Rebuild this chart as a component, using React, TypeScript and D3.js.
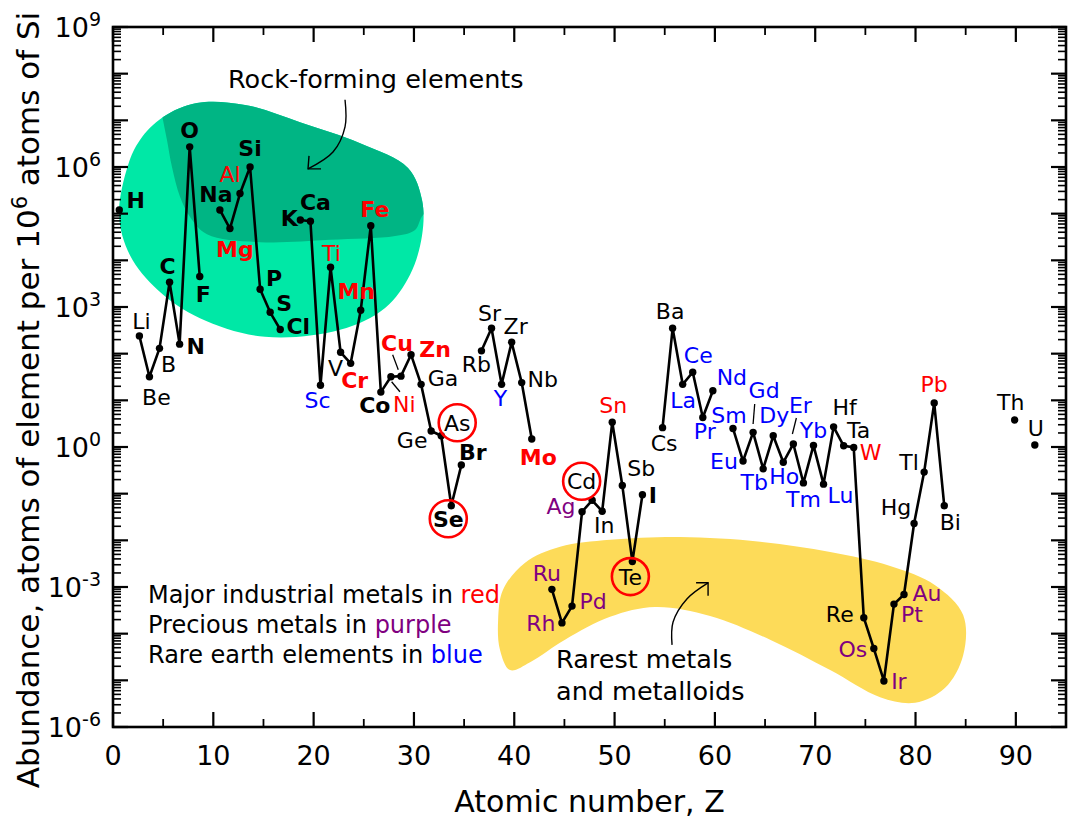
import React from 'react';
import * as d3 from 'd3';

// ---------- data ----------
const SYMBOLS = ['H','Li','Be','B','C','N','O','F','Na','Mg','Al','Si','P','S','Cl','K','Ca','Sc','Ti','V','Cr','Mn','Fe','Co','Ni','Cu','Zn','Ga','Ge','As','Se','Br','Rb','Sr','Y','Zr','Nb','Mo','Ru','Rh','Pd','Ag','Cd','In','Sn','Sb','Te','I','Cs','Ba','La','Ce','Pr','Nd','Sm','Eu','Gd','Tb','Dy','Ho','Er','Tm','Yb','Lu','Hf','Ta','W','Re','Os','Ir','Pt','Au','Hg','Tl','Pb','Bi','Th','U'];
const ATOMIC_NUMBERS = [1,3,4,5,6,7,8,9,11,12,13,14,15,16,17,19,20,21,22,23,24,25,26,27,28,29,30,31,32,33,34,35,37,38,39,40,41,42,44,45,46,47,48,49,50,51,52,53,55,56,57,58,59,60,62,63,64,65,66,67,68,69,70,71,72,73,74,75,76,77,78,79,80,81,82,83,90,92];
const ABUNDANCE = [1.2e5,240,32,130,3400,160,2.7e6,4500,1.2e5,4.8e4,2.7e5,1e6,2400,770,330,7.3e4,6.9e4,21,7100,107,62,850,5.5e4,15,32,33,95,22,2.2,1.74,0.055,0.41,115,350,22,175,24,1.48,8.9e-4,1.7e-4,3.9e-4,0.041,0.072,0.042,3.4,0.15,3.5e-3,0.095,2.6,350,22,40,4.3,16,2.5,0.5,2.06,0.34,1.74,0.47,1.16,0.17,1.08,0.16,2.7,1.06,0.98,2.2e-4,4.8e-5,9.7e-6,4.3e-4,6.9e-4,0.023,0.29,8.8,0.055,3.8,1.1];

const INDUSTRIAL = ['Mg','Al','Ti','Cr','Mn','Fe','Ni','Cu','Zn','Mo','Sn','W','Pb'];
const PRECIOUS = ['Ru','Rh','Pd','Ag','Os','Ir','Pt','Au'];
const RARE_EARTH = ['Sc','Y','La','Ce','Pr','Nd','Sm','Eu','Gd','Tb','Dy','Ho','Er','Tm','Yb','Lu'];
const BOLD = ['H','C','N','O','F','Na','Mg','Si','P','S','Cl','K','Ca','Cr','Mn','Fe','Co','Cu','Zn','Se','Br','Mo','I'];
const CIRCLED = ['As','Se','Cd','Te'];

const X_MAJOR = [0,10,20,30,40,50,60,70,80,90];
const Y_LABEL_EXPONENTS = [-6,-3,0,3,6,9];

// label offsets (px, label centre relative to point)
const LABEL_OFFSETS: Record<string,[number,number]> = {
  H:[16.5,-10], Li:[2,-15], Be:[7,20], B:[9,16], C:[-2,-16], N:[16,2], O:[0,-17], F:[3.5,17],
  Na:[-4,-16], Mg:[5,20], Al:[-10,-20], Si:[0,-19], P:[14,-11], S:[14,-9], Cl:[18,-3],
  K:[-11,-2.5], Ca:[5,-19.5], Sc:[-3,15], Ti:[1,-14], V:[-5,16], Cr:[4,17], Mn:[-4.5,-19], Fe:[4,-17],
  Co:[-6,13], Ni:[13.5,27], Cu:[-4,-33], Zn:[24,-6], Ga:[22,-6], Ge:[-19,9], As:[16,-13], Se:[-3,13], Br:[11.5,-13.5],
  Rb:[-5,13], Sr:[-2,-15], Y:[-1,14], Zr:[4,-16], Nb:[21,-4], Mo:[6.5,17.5],
  Ru:[-5,-16], Rh:[-21,0], Pd:[21,-5], Ag:[-21,-6], Cd:[-10.5,-19], In:[2,14], Sn:[1,-17], Sb:[19,-17], Te:[-2,15], I:[10.5,0],
  Cs:[1.5,15], Ba:[-2.5,-17], La:[0.5,16], Ce:[5.5,-17], Pr:[2,14], Nd:[19,-14],
  Sm:[-4,-13], Eu:[-19,0], Gd:[11,-42], Tb:[-9,13], Dy:[1,-21], Ho:[1,14], Er:[7,-39], Tm:[0,16], Yb:[0,-15], Lu:[17,11],
  Hf:[11,-20], Ta:[15,-16], W:[17,5], Re:[-24,-4], Os:[-21,0], Ir:[15,0.5], Pt:[18,9.5], Au:[23,-2],
  Hg:[-18,-16], Tl:[-15,-10], Pb:[0,-18.5], Bi:[6,16], Th:[-4,-18], U:[1,-17],
};
// leader ticks [symbol, dx1, dy1, dx2, dy2]
const LEADERS: [string,number,number,number,number][] = [
  ['Cu',-8.3,-21.3,-2.7,-6.3], ['Ni',0.7,5,9,15], ['Gd',1.6,-28.3,0,-8.3], ['Er',3,-26,-1,-10],
];

// annotation regions in data units [Z, log10(abundance)]
const ROCK_REGION: [number,number][] = [[4.99,7.07],[8.37,7.37],[13.16,7.33],[18.64,6.96],[24.63,6.51],[29.41,5.98],[30.81,5.29],[30.81,4.54],[29.61,3.69],[27.12,2.98],[22.63,2.51],[15.15,2.36],[8.67,2.76],[4.49,3.36],[1.69,4.11],[0.6,4.97],[1.5,6.04],[2.69,6.58]];
const ROCK_CORE_EDGE: [number,number][] = [[33.1,5.29],[30.91,4.97],[30.11,4.65],[28.12,4.52],[21.64,4.44],[14.66,4.39],[9.37,4.56],[7.68,4.93],[6.68,5.36],[5.88,6.0],[5.38,6.58],[4.89,7.11],[4.49,7.65]];
const RARE_REGION: [number,number][] = [[38.39,-3.71],[38.88,-3.06],[41.08,-2.48],[44.57,-2.14],[49.55,-1.99],[56.53,-1.93],[64.51,-2.03],[71.49,-2.25],[77.47,-2.55],[81.95,-2.96],[84.75,-3.6],[84.75,-4.46],[82.95,-5.16],[79.96,-5.48],[76.47,-5.36],[71.49,-4.78],[65.5,-4.13],[59.52,-3.62],[54.04,-3.43],[49.55,-3.64],[45.06,-4.13],[41.58,-4.61],[39.58,-4.78],[38.58,-4.35]];
const ROCK_ARROW: [number,number][] = [[23.13,7.44],[23.13,6.86],[21.93,6.32],[19.44,5.96]];
const RARE_ARROW: [number,number][] = [[55.73,-4.24],[55.83,-3.75],[57.23,-3.25],[59.32,-2.91]];

const FONT = '"DejaVu Sans", Verdana, sans-serif';
const W = 1068, H = 818;
const L = 113, R = 1066, T = 27, B = 727;

export default function App() {
  // axis frame scale (ticks, annotation regions)
  const x = d3.scaleLinear().domain([0, 95]).range([L, R]);
  // element markers sit on a very slightly offset scale in the original figure
  const xp = d3.scaleLinear().domain([0, 95]).range([109.2, 1065]);
  const y = d3.scaleLog().domain([1e-6, 1e9]).range([B, T]);
  const yl = (lg: number) => y(Math.pow(10, lg));

  const pts = SYMBOLS.map((s, i) => ({ s, z: ATOMIC_NUMBERS[i], v: ABUNDANCE[i] }));
  const segments: typeof pts[] = [];
  pts.forEach((p, i) => {
    if (i > 0 && p.z === pts[i - 1].z + 1) segments[segments.length - 1].push(p);
    else segments.push([p]);
  });
  const line = d3.line<{z:number,v:number}>().x(d => xp(d.z)).y(d => y(d.v));

  const closedLine = d3.line<[number,number]>().x(d => x(d[0])).y(d => yl(d[1])).curve(d3.curveCatmullRomClosed.alpha(0.5));
  const openLine = d3.line<[number,number]>().x(d => x(d[0])).y(d => yl(d[1])).curve(d3.curveCatmullRom.alpha(0.5));
  const rockPath = closedLine(ROCK_REGION) || '';
  const rarePath = closedLine(RARE_REGION) || '';
  const coreEdge = openLine(ROCK_CORE_EDGE) || '';
  const corePath = coreEdge + ` L${x(3.5)},${yl(8.4)} L${x(34)},${yl(8.4)} Z`;
  const rockTip = ROCK_ARROW[ROCK_ARROW.length - 1];
  const rareTip = RARE_ARROW[RARE_ARROW.length - 1];
  const rtx = x(rockTip[0]), rty = yl(rockTip[1]);
  const atx = x(rareTip[0]), aty = yl(rareTip[1]);

  const colorOf = (s: string) => INDUSTRIAL.includes(s) ? '#ff0000' : PRECIOUS.includes(s) ? '#800080' : RARE_EARTH.includes(s) ? '#0000ff' : '#000000';

  const yMinor: number[] = [];
  for (let e = -6; e < 9; e++) for (let k = 2; k <= 9; k++) yMinor.push(k * Math.pow(10, e));
  const yMajor = d3.range(-6, 10).map(e => Math.pow(10, e));
  const xMinor = d3.range(5, 95, 10);

  const LABEL_FS = 22;
  const capHalf = LABEL_FS * 0.729 / 2;

  return (
    <svg width={W} height={H} style={{ position: 'absolute', left: 0, top: 0, background: '#fff' }} fontFamily={FONT}>
      <defs>
        <clipPath id="plotClip"><rect x={L} y={T} width={R - L} height={B - T} /></clipPath>
        <clipPath id="rockClip"><path d={rockPath} /></clipPath>
      </defs>
      <rect x={0} y={0} width={W} height={H} fill="#fff" />
      <g clipPath="url(#plotClip)">
        <path d={rockPath} fill="#00e8a6" />
        <path d={corePath} fill="#00b584" clipPath="url(#rockClip)" />
        <path d={rarePath} fill="#fddb59" />
      </g>

      {/* annotation arrows */}
      <path d={openLine(ROCK_ARROW) || ''} fill="none" stroke="#000" strokeWidth={1.4} />
      <polyline points={`${rtx + 13},${rty} ${rtx},${rty} ${rtx + 1},${rty - 13}`} fill="none" stroke="#000" strokeWidth={1.4} />
      <path d={openLine(RARE_ARROW) || ''} fill="none" stroke="#000" strokeWidth={1.4} />
      <polyline points={`${atx - 12},${aty} ${atx},${aty} ${atx},${aty + 13}`} fill="none" stroke="#000" strokeWidth={1.4} />

      {/* data lines and points */}
      {segments.filter(s => s.length > 1).map((s, i) => (
        <path key={i} d={line(s) || ''} fill="none" stroke="#000" strokeWidth={2.6} strokeLinejoin="round" />
      ))}
      {pts.map(p => <circle key={p.s} cx={xp(p.z)} cy={y(p.v)} r={3.7} fill="#000" />)}

      {/* leader ticks */}
      {LEADERS.map(([s, x1, y1, x2, y2]) => {
        const p = pts.find(q => q.s === s)!;
        const px = xp(p.z), py = y(p.v);
        return <line key={s} x1={px + x1} y1={py + y1} x2={px + x2} y2={py + y2} stroke="#000" strokeWidth={1.3} />;
      })}

      {/* element labels */}
      {pts.map(p => {
        const [dx, dy] = LABEL_OFFSETS[p.s] || [0, -16];
        const cx = xp(p.z) + dx, cy = y(p.v) + dy;
        return (
          <g key={p.s}>
            <text x={cx} y={cy + capHalf} textAnchor="middle" fontSize={LABEL_FS}
              fontWeight={BOLD.includes(p.s) ? 'bold' : 'normal'} fill={colorOf(p.s)}>{p.s}</text>
            {CIRCLED.includes(p.s) && <circle cx={cx} cy={cy} r={18.5} fill="none" stroke="#ff0000" strokeWidth={2.6} />}
          </g>
        );
      })}

      {/* annotation texts */}
      <text x={228} y={88} fontSize={25.5} fill="#000">Rock-forming elements</text>
      <text x={556} y={668} fontSize={25.5} fill="#000">Rarest metals</text>
      <text x={556} y={700} fontSize={25.5} fill="#000">and metalloids</text>
      <text x={148} y={603} fontSize={24} fill="#000">Major industrial metals in <tspan fill="#ff0000">red</tspan></text>
      <text x={148} y={633} fontSize={24} fill="#000">Precious metals in <tspan fill="#800080">purple</tspan></text>
      <text x={148} y={663} fontSize={24} fill="#000">Rare earth elements in <tspan fill="#0000ff">blue</tspan></text>

      {/* axes frame and ticks */}
      <g stroke="#000">
        {X_MAJOR.map(v => (
          <g key={'xm' + v}>
            <line x1={x(v)} x2={x(v)} y1={B} y2={B - 15} strokeWidth={2.2} />
            <line x1={x(v)} x2={x(v)} y1={T} y2={T + 15} strokeWidth={2.2} />
          </g>
        ))}
        {xMinor.map(v => (
          <g key={'xn' + v}>
            <line x1={x(v)} x2={x(v)} y1={B} y2={B - 8} strokeWidth={1.8} />
            <line x1={x(v)} x2={x(v)} y1={T} y2={T + 8} strokeWidth={1.8} />
          </g>
        ))}
        {yMajor.map(v => (
          <g key={'ym' + v}>
            <line x1={L} x2={L + 15} y1={y(v)} y2={y(v)} strokeWidth={2.2} />
            <line x1={R} x2={R - 15} y1={y(v)} y2={y(v)} strokeWidth={2.2} />
          </g>
        ))}
        {yMinor.map(v => (
          <g key={'yn' + v}>
            <line x1={L} x2={L + 8} y1={y(v)} y2={y(v)} strokeWidth={1.6} />
            <line x1={R} x2={R - 8} y1={y(v)} y2={y(v)} strokeWidth={1.6} />
          </g>
        ))}
        <rect x={L} y={T} width={R - L} height={B - T} fill="none" strokeWidth={2.6} />
      </g>

      {X_MAJOR.map(v => (
        <text key={'xl' + v} x={x(v)} y={B + 38} textAnchor="middle" fontSize={27} fill="#000">{v}</text>
      ))}
      {Y_LABEL_EXPONENTS.map(e => (
        <text key={'yl' + e} x={101} y={y(Math.pow(10, e)) + 10} textAnchor="end" fontSize={27} fill="#000">
          10<tspan dy={-11} fontSize={19}>{e}</tspan>
        </text>
      ))}

      <text x={(L + R) / 2} y={812} textAnchor="middle" fontSize={30} fill="#000">Atomic number, Z</text>
      <text transform={`translate(39, 400) rotate(-90)`} textAnchor="middle" fontSize={31} fill="#000">
        Abundance, atoms of element per 10<tspan dy={-12} fontSize={21}>6</tspan><tspan dy={12}> atoms of Si</tspan>
      </text>
    </svg>
  );
}
